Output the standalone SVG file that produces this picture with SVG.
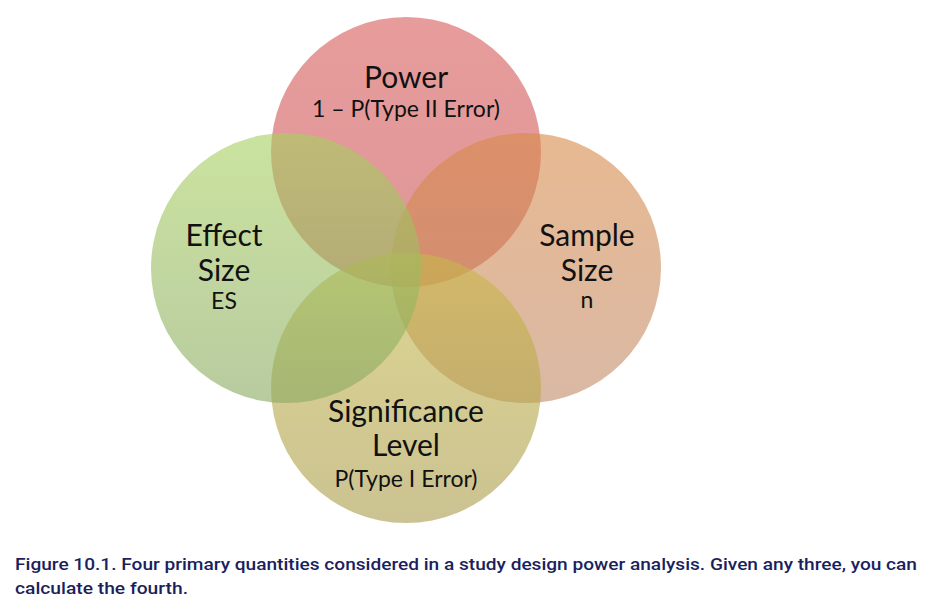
<svg xmlns="http://www.w3.org/2000/svg" width="930" height="615" viewBox="0 0 930 615">
<defs>
<linearGradient id="gP" x1="0" y1="0" x2="0" y2="1"><stop offset="0" stop-color="#d85a5a"/><stop offset="1" stop-color="#c85050"/></linearGradient>
<linearGradient id="gE" x1="0" y1="0" x2="0" y2="1"><stop offset="0" stop-color="#a8d060"/><stop offset="1" stop-color="#88a860"/></linearGradient>
<linearGradient id="gS" x1="0" y1="0" x2="0" y2="1"><stop offset="0" stop-color="#d88a48"/><stop offset="1" stop-color="#c08a68"/></linearGradient>
<linearGradient id="gL" x1="0" y1="0" x2="0" y2="1"><stop offset="0" stop-color="#c8b848"/><stop offset="1" stop-color="#a89a48"/></linearGradient>
<style>
.c{fill-opacity:0.6}
.t{font-family:Lato,"Open Sans",sans-serif;fill:#111;text-anchor:middle}
.big{font-size:30px}
.sm{font-size:23px}
.cap{font-family:Roboto,"Liberation Sans",sans-serif;font-weight:500;font-size:16px;fill:#1b1f5e}
</style>
</defs>
<rect width="930" height="615" fill="#fff"/>
<g id="power"><circle class="c" cx="406" cy="152" r="135" fill="url(#gP)"/></g>
<g id="sample"><circle class="c" cx="526" cy="268" r="135" fill="url(#gS)"/></g>
<g id="significance"><circle class="c" cx="406" cy="388" r="135" fill="url(#gL)"/></g>
<g id="effect"><circle class="c" cx="286" cy="268" r="135" fill="url(#gE)"/></g>
<g id="connectors"></g>
<g id="labels">
<text class="t big" x="406" y="88">Power</text>
<text class="t sm" x="406" y="117">1 – P(Type II Error)</text>
<text class="t big" x="224" y="246">Effect</text>
<text class="t big" x="224" y="281">Size</text>
<text class="t sm" x="224" y="309">ES</text>
<text class="t big" x="587" y="246">Sample</text>
<text class="t big" x="587" y="281">Size</text>
<text class="t sm" x="587" y="308">n</text>
<text class="t big" x="406" y="422">Significance</text>
<text class="t big" x="406" y="456">Level</text>
<text class="t sm" x="406" y="487">P(Type I Error)</text>
</g>
<g id="caption">
<text class="cap" x="15" y="570" textLength="902" lengthAdjust="spacingAndGlyphs">Figure 10.1. Four primary quantities considered in a study design power analysis. Given any three, you can</text>
<text class="cap" x="15" y="594" textLength="173" lengthAdjust="spacingAndGlyphs">calculate the fourth.</text>
</g>
</svg>
